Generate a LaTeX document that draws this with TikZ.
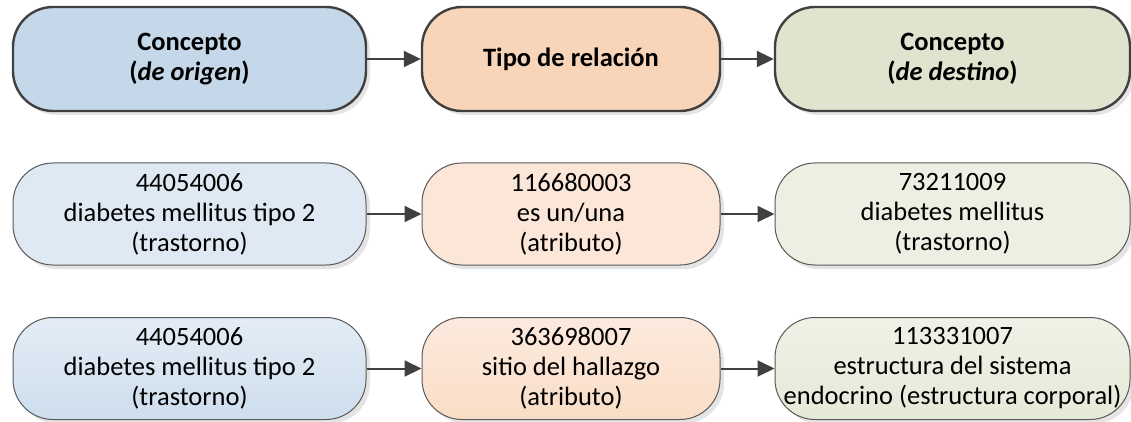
\documentclass[tikz,border=0pt]{standalone}
\usepackage{fontspec}
\setmainfont{Carlito}
\usetikzlibrary{arrows.meta,shadows}

\definecolor{origenhead}{HTML}{C5D8EA}
\definecolor{relhead}{HTML}{F8D5B8}
\definecolor{destinohead}{HTML}{DEE4CE}
\definecolor{origenlight}{HTML}{DFE9F4}
\definecolor{rellight}{HTML}{FCE6D8}
\definecolor{destinolight}{HTML}{ECF0E2}
\definecolor{edge}{HTML}{404040}

\begin{document}
\begin{tikzpicture}[x=1pt, y=-1pt,
    box/.style={rectangle, rounded corners=40pt, align=center, inner sep=0pt,
        font=\fontsize{26.5}{30}\selectfont,
        drop shadow={shadow xshift=4pt, shadow yshift=-4pt, fill=black!30, opacity=0.35}},
    headbox/.style={box, draw=edge, line width=2.4pt, minimum height=104pt},
    itembox/.style={box, draw=black!65, line width=1pt, minimum height=102pt},
    colA/.style={minimum width=353pt},
    colB/.style={minimum width=298pt},
    colC/.style={minimum width=355pt},
    link/.style={draw=edge, line width=2pt, -{Triangle[length=17pt,width=16pt]}}]
    \useasboundingbox (0,0) rectangle (1131,422);

    % cabecera
    \node[headbox, colA, fill=origenhead] (origen) at (189.5,59)
        {\bfseries Concepto\\\bfseries(\textit{de origen})};
    \node[headbox, colB, fill=relhead] (relacion) at (571,59)
        {\bfseries Tipo de relación};
    \node[headbox, colC, fill=destinohead] (destino) at (952.5,59)
        {\bfseries Concepto\\\bfseries(\textit{de destino})};

    % ejemplo 1
    \node[itembox, colA, fill=origenlight] (origenA) at (189.5,214)
        {44054006\\diabetes mellitus tipo 2\\(trastorno)};
    \node[itembox, colB, fill=rellight] (relacionA) at (571,214)
        {116680003\\es un/una\\(atributo)};
    \node[itembox, colC, fill=destinolight] (destinoA) at (952.5,214)
        {73211009\\diabetes mellitus\\(trastorno)};

    % ejemplo 2
    \node[itembox, colA, top color=origenlight!85, bottom color=origenhead!85] (origenB) at (189.5,368.5)
        {44054006\\diabetes mellitus tipo 2\\(trastorno)};
    \node[itembox, colB, top color=rellight!85, bottom color=relhead!80] (relacionB) at (571,368.5)
        {363698007\\sitio del hallazgo\\(atributo)};
    \node[itembox, colC, top color=destinolight!85, bottom color=destinohead!80] (destinoB) at (952.5,368.5)
        {113331007\\estructura del sistema\\endocrino (estructura corporal)};

    \draw[link] (origen) -- (relacion);
    \draw[link] (relacion) -- (destino);
    \draw[link] (origenA) -- (relacionA);
    \draw[link] (relacionA) -- (destinoA);
    \draw[link] (origenB) -- (relacionB);
    \draw[link] (relacionB) -- (destinoB);
\end{tikzpicture}
\end{document}
